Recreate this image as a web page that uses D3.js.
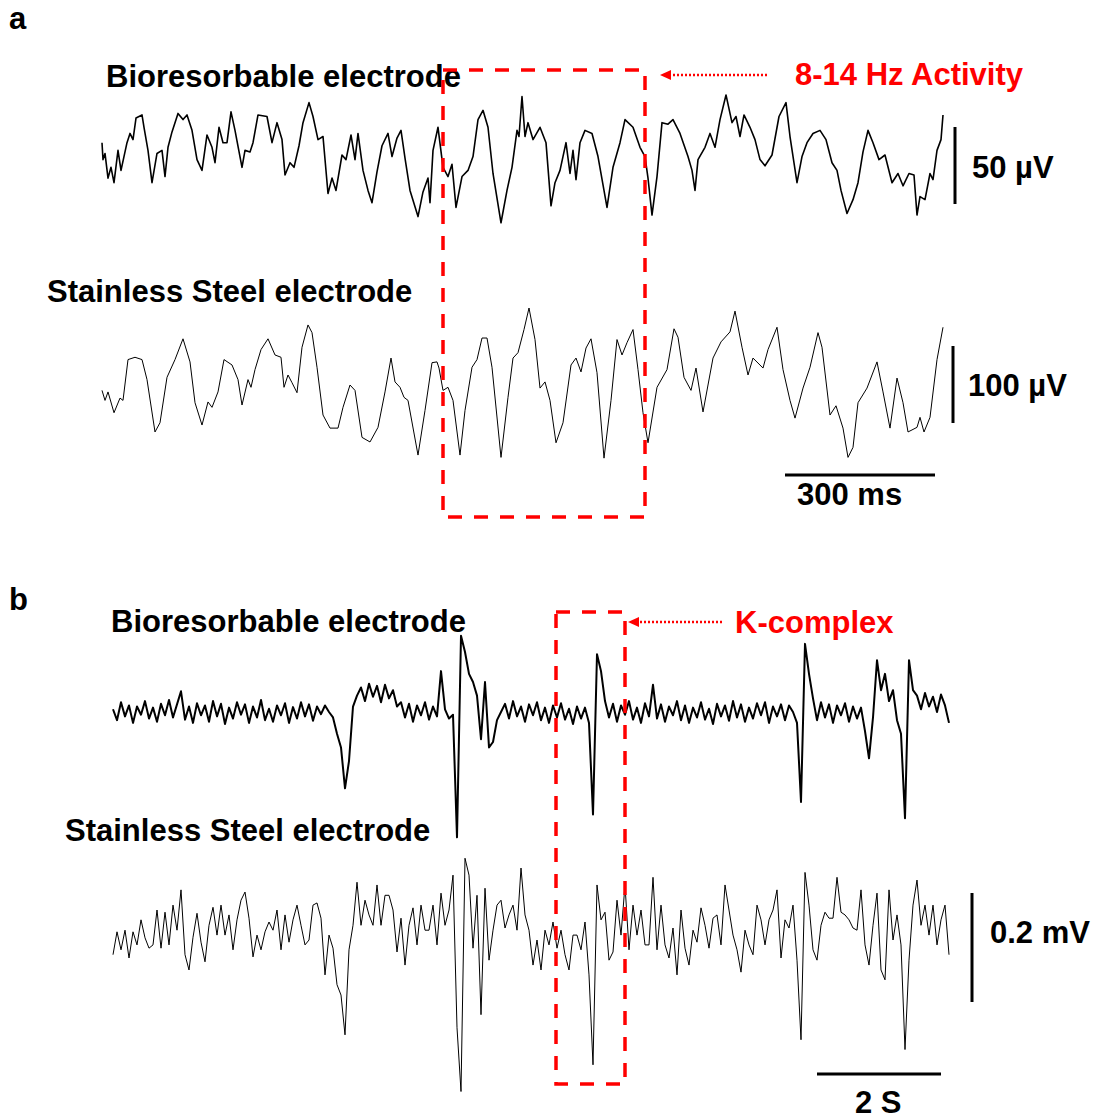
<!DOCTYPE html>
<html>
<head>
<meta charset="utf-8">
<script src="https://cdn.jsdelivr.net/npm/d3@7"></script>
<style>
body { margin: 0; background: #fff; }
text { font-family: "Liberation Sans", Arial, sans-serif; font-weight: bold; }
</style>
</head>
<body>
<div id="chart"></div>
<script>
// ---- panel a : 8-14 Hz activity (time in ms, amplitude in µV)
var aBioTimes = [0,2,6,12,18,24,32,38,50,56,62,68,80,84,92,100,110,120,126,132,
	140,152,162,170,180,190,200,210,220,226,234,242,250,258,266,280,286,296,302,312,
	330,340,350,360,366,376,384,394,402,414,422,432,442,452,460,468,480,488,498,506,
	512,522,532,540,550,560,572,580,590,598,606,616,632,642,652,656,662,672,682,692,
	700,708,720,732,742,752,762,772,782,798,810,820,830,834,840,846,852,862,876,888,
	898,906,916,928,936,942,948,956,966,980,992,1010,1022,1036,1046,1062,1076,1086,1092,1100,
	1110,1120,1132,1142,1156,1172,1180,1186,1192,1206,1216,1226,1236,1248,1260,1268,1276,1284,1296,1306,
	1316,1326,1340,1354,1368,1376,1390,1400,1410,1422,1436,1448,1460,1470,1478,1490,1502,1512,1522,1532,
	1542,1554,1566,1580,1592,1602,1614,1624,1630,1636,1646,1656,1662,1670,1678,1682]
var aBioValues = [8,-3,1,-15,-8,-18,3,-10,8,14,10,24,26,18,3,-18,1,3,-14,5,
	15,27,23,26,16,-3,-10,13,5,-5,18,8,8,28,16,-8,3,2,8,26,
	25,8,21,10,-13,-5,-8,6,21,34,25,10,12,-25,-15,-23,0,-3,13,-3,
	14,-10,-23,-31,-11,6,14,-1,11,16,-2,-23,-40,-24,-15,-31,3,18,-8,-14,
	-6,-34,-14,-10,-1,23,29,18,-12,-44,-23,-8,16,12,38,12,21,10,18,8,
	-33,-18,-10,8,-12,3,-16,8,16,14,-1,-34,-8,8,23,18,5,-1,-15,-39,
	-14,21,20,23,14,-1,-10,-23,-3,5,14,5,23,39,21,25,12,26,18,10,
	-3,-7,0,25,34,12,-18,-1,8,14,16,10,-5,-10,-23,-38,-29,-18,2,16,
	8,-3,0,-18,-12,-20,-12,-13,-39,-27,-29,-12,-16,3,10,26]

var aSteelTimes = [0,6,12,24,36,42,52,66,80,90,106,116,130,146,162,176,186,200,212,220,
	232,244,260,272,280,292,298,306,318,332,346,358,364,372,380,390,400,412,420,430,
	442,456,472,482,496,506,520,536,552,566,578,586,596,604,612,632,646,660,670,674,
	682,692,702,716,726,740,750,760,770,780,798,812,822,832,844,854,866,876,886,896,
	908,922,938,948,958,968,978,990,1004,1018,1030,1040,1050,1062,1072,1082,1092,1110,1130,1144,
	1152,1164,1178,1188,1202,1222,1238,1256,1266,1280,1292,1302,1322,1332,1350,1362,1376,1386,1402,1416,
	1432,1440,1456,1468,1482,1492,1502,1512,1530,1550,1562,1576,1590,1602,1612,1630,1636,1644,1656,1670,1682]
var aSteelValues = [-7,-20,-9,-36,-17,-20,33,36,33,7,-61,-49,10,33,60,30,-23,-52,-22,-29,
	-9,33,26,7,-26,7,-3,20,46,60,39,36,-3,13,3,-10,49,78,68,23,
	-39,-56,-56,-29,0,-7,-68,-74,-55,-9,35,4,-3,-16,-20,-91,-33,29,30,22,
	-7,-3,-20,-91,-33,23,33,61,61,23,-94,-16,35,42,72,100,59,-4,4,-20,
	-75,-49,26,35,17,48,60,16,-95,-20,59,39,55,72,20,-36,-75,-3,20,73,
	62,10,-7,22,-35,35,56,69,96,49,13,35,22,46,75,20,-20,-43,-4,23,
	68,49,-39,-27,-56,-94,-81,-23,-4,30,-9,-56,9,-23,-61,-55,-42,-61,-42,33,75]

// ---- panel b : K-complex (sampled at bRate Hz, amplitude in µV)
var bRate = 15.5
var bBioValues = [5,-15,18,-8,12,-20,10,-5,20,-12,8,-18,15,-6,22,-10,14,38,
	-14,10,-20,16,-6,12,-18,20,-8,15,-22,8,-12,18,-5,14,-20,10,-10,22,
	-15,6,-18,12,-6,16,-20,9,-12,18,-8,14,-16,10,-4,12,
	0,-10,-40,-65,-140,-90,10,30,
	45,20,52,28,48,18,50,25,40,10,18,
	-10,15,-18,12,-6,18,-14,10,-8,75,5,-12,
	-5,-230,140,110,70,55,30,-50,55,-65,-55,-15,
	0,15,-12,20,-8,10,-18,14,-6,18,-15,8,-20,12,-10,16,-14,6,-22,10,-12,8,
	-20,-188,106,75,20,
	-10,15,-18,12,-5,20,-14,8,-20,16,-8,50,
	-12,14,-18,10,-6,20,-15,12,-20,8,-10,18,-14,6,-22,15,-8,12,-16,20,
	-10,14,-18,8,-12,16,-6,18,-20,10,-8,14,-15,12,0,
	-20,-165,125,70,25,
	-15,18,-10,14,-20,12,-6,16,-18,10,-12,8,
	-35,-85,-10,95,40,70,20,40,-15,-40,-195,95,40,
	30,5,35,10,28,0,32,12,-20]
var bSteelValues = [-27,15,-18,18,-33,15,-9,37,4,-15,-9,55,-15,51,-9,64,18,92,-27,-55,
	5,49,-4,-40,27,60,9,64,9,46,-18,37,73,88,40,-31,9,-18,15,33,
	18,55,-18,46,-4,37,64,27,-9,0,64,68,40,-64,9,-15,-82,-101,-174,-18,
	27,106,27,73,46,27,101,27,82,82,55,-22,40,-46,27,59,-9,64,18,18,
	64,-9,86,27,55,119,-161,-278,150,119,-15,82,-137,95,-37,18,64,73,22,46,
	64,18,132,46,18,-46,0,-55,18,-9,33,-15,18,-27,-55,9,9,-18,33,-64,
	-229,101,37,51,-37,-22,73,9,101,-18,64,9,55,-9,-9,115,-18,64,-9,-33,
	22,-64,55,-15,-46,18,-4,59,27,-15,40,46,-9,101,55,9,-18,-59,18,-9,
	-27,64,37,-9,37,55,92,-33,37,22,64,-37,-183,124,64,-18,-37,27,51,40,
	40,115,51,46,37,22,18,92,-9,-46,27,86,-55,-73,92,0,46,-9,-201,-37,
	64,110,27,64,9,64,-9,37,64,-27]

// ---- texts
var panelLetters = ["a", "b"]
var traceNames = ["Bioresorbable electrode", "Stainless Steel electrode"]
var annotations = ["8-14 Hz Activity", "K-complex"]
var aScaleBars = [{"value": 50, "label": "50 µV"}, {"value": 100, "label": "100 µV"}, {"value": 300, "label": "300 ms"}]
var bScaleBars = [{"value": 200, "label": "0.2 mV"}, {"value": 2, "label": "2 S"}]


var svg = d3.select("#chart")
		    .append("svg")
		    .attr("width", 1093)
		    .attr("height", 1120)

var xA = d3.scaleLinear().domain([0, 1684]).range([102, 944])
var yA1 = d3.scaleLinear().domain([-50, 50]).range([232, 78])
var yA2 = d3.scaleLinear().domain([-100, 100]).range([462, 308])

var xB = d3.scaleLinear().domain([0, (bBioValues.length - 1) / bRate]).range([113, 949])
var yB1 = d3.scaleLinear().domain([-200, 200]).range([821, 603])
var yB2 = d3.scaleLinear().domain([-200, 200]).range([1049, 831])


drawTrace(aBioTimes, aBioValues, xA, yA1, 1.6)
drawTrace(aSteelTimes, aSteelValues, xA, yA2, 1)
drawTrace(bBioValues.map(function(d, i){return i / bRate;}), bBioValues, xB, yB1, 2)
drawTrace(bSteelValues.map(function(d, i){return i / bRate;}), bSteelValues, xB, yB2, 1)


// panel letters and trace names
addText(panelLetters[0], 9, 29)
addText(panelLetters[1], 9, 610)
addText(traceNames[0], 106, 87)
addText(traceNames[1], 47, 302)
addText(traceNames[0], 111, 632)
addText(traceNames[1], 65, 841)

// red boxes + arrows
redBox(443, 70, 645, 517)
redBox(556, 612, 625, 1084)
redArrow(767, 660, 75)
redArrow(722, 628, 622)
addText(annotations[0], 795, 85).attr("fill", "#ff0000")
addText(annotations[1], 735, 633).attr("fill", "#ff0000")

// scale bars, lengths from the scales
vBar(955, 204, yA1(0) - yA1(aScaleBars[0].value))
addText(aScaleBars[0].label, 972, 178)
vBar(953, 423, yA2(0) - yA2(aScaleBars[1].value))
addText(aScaleBars[1].label, 968, 396)
hBar(785, 475, xA(aScaleBars[2].value) - xA(0))
addText(aScaleBars[2].label, 797, 505)

vBar(972, 1002, yB1(0) - yB1(bScaleBars[0].value))
addText(bScaleBars[0].label, 990, 943)
hBar(817, 1074, xB(bScaleBars[1].value) - xB(0))
addText(bScaleBars[1].label, 855, 1113)



function drawTrace(times, values, x, y, w)
{
	var pts = d3.zip(times, values)
	var line = d3.line()
				.x(function(d){return x(d[0]);})
				.y(function(d){return y(d[1]);})
	svg.append("path")
		.datum(pts)
		.attr("d", line)
		.attr("fill", "none")
		.attr("stroke", "#000")
		.attr("stroke-width", w)
		.attr("stroke-linejoin", "round")
}

function addText(t, x, y)
{
	return svg.append("text")
				.attr("x", x)
				.attr("y", y)
				.attr("font-size", 31)
				.attr("fill", "#000")
				.text(t)
}

function redBox(x1, y1, x2, y2)
{
	svg.append("rect")
		.attr("x", x1)
		.attr("y", y1)
		.attr("width", x2 - x1)
		.attr("height", y2 - y1)
		.attr("fill", "none")
		.attr("stroke", "#ff0000")
		.attr("stroke-width", 3.5)
		.attr("stroke-dasharray", "14,12")
}

function redArrow(xFrom, xTo, y)
{
	svg.append("line")
		.attr("x1", xFrom)
		.attr("y1", y)
		.attr("x2", xTo + 10)
		.attr("y2", y)
		.attr("stroke", "#ff0000")
		.attr("stroke-width", 2.5)
		.attr("stroke-dasharray", "2,2")
	svg.append("polygon")
		.attr("points", [[xTo, y].join(","), [xTo + 11, y - 5].join(","), [xTo + 11, y + 5].join(",")].join(" "))
		.attr("fill", "#ff0000")
}

function vBar(x, yBottom, len)
{
	svg.append("line")
		.attr("x1", x).attr("y1", yBottom)
		.attr("x2", x).attr("y2", yBottom - len)
		.attr("stroke", "#000")
		.attr("stroke-width", 3)
}

function hBar(xLeft, y, len)
{
	svg.append("line")
		.attr("x1", xLeft).attr("y1", y)
		.attr("x2", xLeft + len).attr("y2", y)
		.attr("stroke", "#000")
		.attr("stroke-width", 3)
}
</script>
</body>
</html>
